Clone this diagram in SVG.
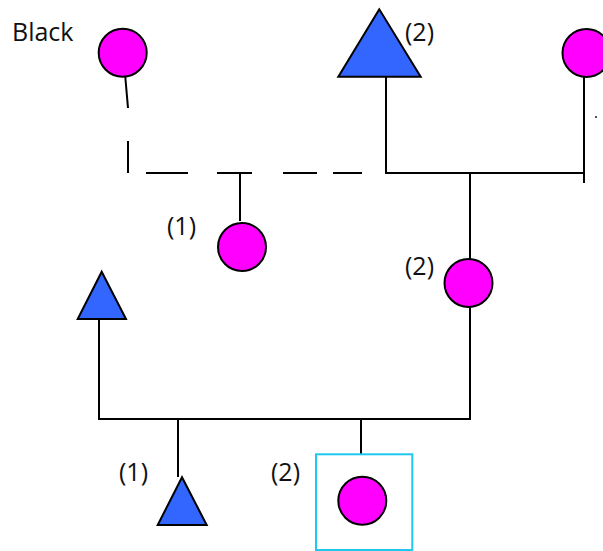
<svg xmlns="http://www.w3.org/2000/svg" width="603" height="551" viewBox="0 0 603 551">
<style>
.ln{stroke:#000;stroke-width:2;fill:none}
.f{fill:#ff00ff;stroke:#000;stroke-width:2}
.m{fill:#3366ff;stroke:#000;stroke-width:2;stroke-linejoin:miter}
.t{font-family:"Open Sans","Liberation Sans",sans-serif;font-size:25px;fill:#111}
</style>
<rect width="603" height="551" fill="#fff"/>
<text class="t" x="12" y="41">Black</text>
<g id="connectors">
<path class="ln" d="M125.3 77 L128 108"/>
<path class="ln" d="M128 141 V173"/>
<path class="ln" d="M146 173 H188 M217 173 H252 M283 173 H317 M333 173 H362"/>
<path class="ln" d="M240 173 V221"/>
<path class="ln" d="M386 76 V173 H584"/>
<path class="ln" d="M584 76 V183"/>
<path class="ln" d="M470 173 V259"/>
<path class="ln" d="M470 307 V419 H99 V319"/>
<path class="ln" d="M178 419 V477"/>
<path class="ln" d="M361 419 V454"/>
<circle cx="596" cy="117" r="0.9" fill="#000"/>
</g>
<g id="f-topleft"><circle class="f" cx="122.7" cy="52.7" r="24"/></g>
<g id="m-top"><polygon class="m" points="379.3,9.3 338.3,76.7 420.7,76.7"/><text class="t" x="405" y="41">(2)</text></g>
<g id="f-topright"><circle class="f" cx="586.5" cy="53" r="24"/></g>
<g id="f-child1"><circle class="f" cx="242" cy="247" r="24"/><text class="t" x="167" y="235">(1)</text></g>
<g id="f-child2"><circle class="f" cx="468.5" cy="283" r="24"/><text class="t" x="405" y="275">(2)</text></g>
<g id="m-left"><polygon class="m" points="101.7,271.7 77.7,319 126,319"/></g>
<g id="m-bottom"><polygon class="m" points="182,477.3 157.7,525 206.7,525"/><text class="t" x="119" y="481">(1)</text></g>
<g id="f-bottom"><rect x="316" y="454.3" width="96.3" height="95.7" fill="none" stroke="#1ec8f0" stroke-width="2"/><circle class="f" cx="362.3" cy="500.7" r="24"/><text class="t" x="271" y="481">(2)</text></g>
</svg>
